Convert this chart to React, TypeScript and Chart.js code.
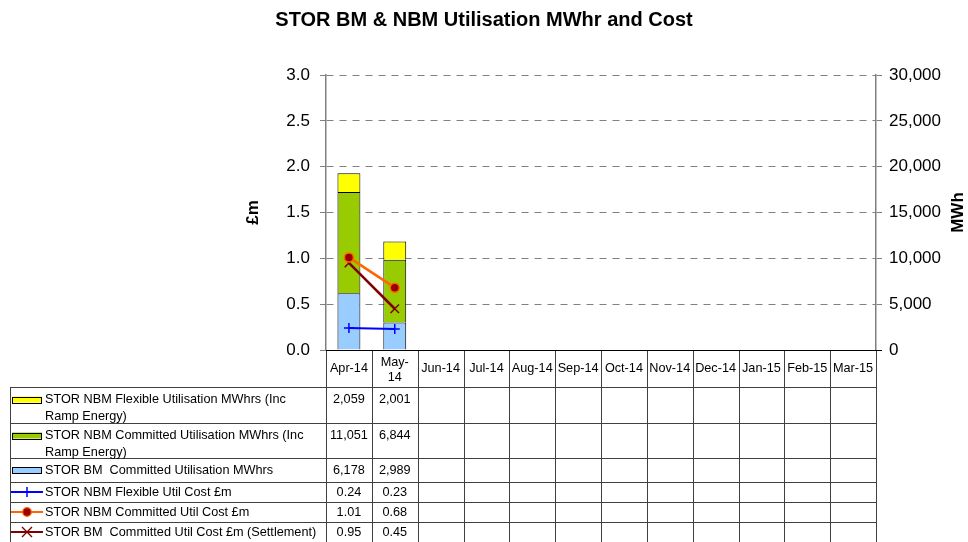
import React, { useEffect, useRef } from "react";
import { Chart, registerables } from "chart.js";

Chart.register(...registerables);

const FONT = "'Liberation Sans', Arial, Helvetica, sans-serif";

// ---- data ----
const categories: (string | string[])[] = [
  "Apr-14", ["May-", "14"], "Jun-14", "Jul-14", "Aug-14", "Sep-14",
  "Oct-14", "Nov-14", "Dec-14", "Jan-15", "Feb-15", "Mar-15",
];

const nbmFlexibleMWh = [2059, 2001, null, null, null, null, null, null, null, null, null, null];
const nbmCommittedMWh = [11051, 6844, null, null, null, null, null, null, null, null, null, null];
const bmCommittedMWh = [6178, 2989, null, null, null, null, null, null, null, null, null, null];
const nbmFlexibleCost = [0.24, 0.23, null, null, null, null, null, null, null, null, null, null];
const nbmCommittedCost = [1.01, 0.68, null, null, null, null, null, null, null, null, null, null];
const bmCommittedCost = [0.95, 0.45, null, null, null, null, null, null, null, null, null, null];

const costTicks = [0, 0.5, 1.0, 1.5, 2.0, 2.5, 3.0];
const mwhTicks = [0, 5000, 10000, 15000, 20000, 25000, 30000];

const nameNbmFlexibleMWh = ["STOR NBM Flexible Utilisation MWhrs (Inc", "Ramp Energy)"];
const nameNbmCommittedMWh = ["STOR NBM Committed Utilisation MWhrs (Inc", "Ramp Energy)"];
const nameBmCommittedMWh = ["STOR BM  Committed Utilisation MWhrs"];
const nameNbmFlexibleCost = ["STOR NBM Flexible Util Cost £m"];
const nameNbmCommittedCost = ["STOR NBM Committed Util Cost £m"];
const nameBmCommittedCost = ["STOR BM  Committed Util Cost £m (Settlement)"];

const chartTitle = "STOR BM & NBM Utilisation MWhr and Cost";
const leftAxisTitle = "£m";
const rightAxisTitle = "MWh";

// ---- styles ----
const YELLOW = "#FFFF00";
const GREEN = "#99CC00";
const LIGHTBLUE = "#99CCFF";
const BLUE = "#0000FF";
const ORANGE = "#FF6600";
const DARKRED = "#990000";
const MAROON = "#800000";

const fmtMWh = (v: number) => v.toLocaleString("en-US");
const fmtCost = (v: number) => v.toFixed(2);

type Row = {
  lines: string[];
  data: (number | null)[];
  fmt: (v: number) => string;
  key: "bar" | "plus" | "circle" | "x";
  color: string;
  height: number;
};

const rows: Row[] = [
  { lines: nameNbmFlexibleMWh, data: nbmFlexibleMWh, fmt: fmtMWh, key: "bar", color: YELLOW, height: 36 },
  { lines: nameNbmCommittedMWh, data: nbmCommittedMWh, fmt: fmtMWh, key: "bar", color: GREEN, height: 35 },
  { lines: nameBmCommittedMWh, data: bmCommittedMWh, fmt: fmtMWh, key: "bar", color: LIGHTBLUE, height: 24 },
  { lines: nameNbmFlexibleCost, data: nbmFlexibleCost, fmt: fmtCost, key: "plus", color: BLUE, height: 20 },
  { lines: nameNbmCommittedCost, data: nbmCommittedCost, fmt: fmtCost, key: "circle", color: ORANGE, height: 20 },
  { lines: nameBmCommittedCost, data: bmCommittedCost, fmt: fmtCost, key: "x", color: MAROON, height: 20 },
];

function drawMarker(ctx: CanvasRenderingContext2D, kind: string, x: number, y: number) {
  ctx.save();
  if (kind === "plus") {
    ctx.strokeStyle = BLUE;
    ctx.lineWidth = 1.5;
    ctx.beginPath();
    ctx.moveTo(x, y - 5);
    ctx.lineTo(x, y + 5);
    ctx.moveTo(x - 5, y);
    ctx.lineTo(x + 5, y);
    ctx.stroke();
  } else if (kind === "circle") {
    ctx.fillStyle = DARKRED;
    ctx.strokeStyle = ORANGE;
    ctx.lineWidth = 1.2;
    ctx.beginPath();
    ctx.arc(x, y, 4.3, 0, Math.PI * 2);
    ctx.fill();
    ctx.stroke();
  } else if (kind === "x") {
    ctx.strokeStyle = MAROON;
    ctx.lineWidth = 1.4;
    ctx.beginPath();
    ctx.moveTo(x - 5, y - 5);
    ctx.lineTo(x + 5, y + 5);
    ctx.moveTo(x + 5, y - 5);
    ctx.lineTo(x - 5, y + 5);
    ctx.stroke();
  }
  ctx.restore();
}

const tablePlugin = {
  id: "dataTable",
  afterDraw(chart: any) {
    const ctx: CanvasRenderingContext2D = chart.ctx;
    const area = chart.chartArea;
    const xs = chart.scales.x;
    const n = categories.length;
    const centers = categories.map((_, i) => xs.getPixelForValue(i));
    const bounds: number[] = [area.left];
    for (let i = 0; i < n - 1; i++) bounds.push((centers[i] + centers[i + 1]) / 2);
    bounds.push(area.right);

    const top = area.bottom;
    const headerBottom = top + 37;
    const tableLeft = 10;
    const bottom = chart.height;

    ctx.save();
    const rowTops: number[] = [];
    let y = headerBottom;
    rows.forEach((r) => {
      rowTops.push(y);
      y += r.height;
    });

    ctx.lineWidth = 1;
    ctx.strokeStyle = "#404040";
    ctx.beginPath();
    rowTops.forEach((ry) => {
      const yy = Math.round(ry) + 0.5;
      ctx.moveTo(tableLeft, yy);
      ctx.lineTo(area.right, yy);
    });
    const lx = tableLeft + 0.5;
    ctx.moveTo(lx, headerBottom);
    ctx.lineTo(lx, bottom);
    bounds.forEach((bx) => {
      const xx = Math.round(bx) + 0.5;
      ctx.moveTo(xx, top);
      ctx.lineTo(xx, bottom);
    });
    ctx.stroke();

    // x axis line
    ctx.strokeStyle = "#000";
    ctx.beginPath();
    ctx.moveTo(area.left, Math.round(top) + 0.5);
    ctx.lineTo(area.right + 6, Math.round(top) + 0.5);
    ctx.stroke();

    ctx.fillStyle = "#000";
    ctx.font = `12.7px ${FONT}`;
    ctx.textBaseline = "middle";
    ctx.textAlign = "center";

    categories.forEach((c, i) => {
      const lines = Array.isArray(c) ? c : [c];
      const cx = centers[i];
      if (lines.length === 1) {
        ctx.fillText(lines[0], cx, top + 18.5);
      } else {
        lines.forEach((l, k) => ctx.fillText(l, cx, top + 12 + k * 15));
      }
    });

    rows.forEach((r, ri) => {
      const rt = rowTops[ri];
      const firstY = r.lines.length > 1 ? rt + 12.5 : rt + r.height / 2;
      if (r.key === "bar") {
        ctx.fillStyle = r.color;
        ctx.fillRect(12, firstY - 3, 30, 6);
        ctx.strokeStyle = "#000";
        ctx.lineWidth = 1;
        ctx.strokeRect(12.5, Math.round(firstY - 3) + 0.5, 29, 6);
      } else {
        ctx.strokeStyle = r.color;
        ctx.lineWidth = 2;
        ctx.beginPath();
        ctx.moveTo(11, firstY);
        ctx.lineTo(43, firstY);
        ctx.stroke();
        drawMarker(ctx, r.key, 27, firstY);
      }
      ctx.fillStyle = "#000";
      ctx.textAlign = "left";
      r.lines.forEach((l, k) => ctx.fillText(l, 45, firstY + k * 17));
      ctx.textAlign = "center";
      r.data.forEach((v, i) => {
        if (v === null || v === undefined) return;
        ctx.fillText(r.fmt(v), centers[i], firstY);
      });
    });

    ctx.font = `bold 17px ${FONT}`;
    ctx.textAlign = "center";
    ctx.textBaseline = "middle";
    ctx.save();
    ctx.translate(253, (area.top + area.bottom) / 2);
    ctx.rotate(-Math.PI / 2);
    ctx.fillText(leftAxisTitle, 0, 0);
    ctx.restore();
    ctx.save();
    ctx.translate(958, (area.top + area.bottom) / 2);
    ctx.rotate(-Math.PI / 2);
    ctx.fillText(rightAxisTitle, 0, 0);
    ctx.restore();

    ctx.restore();
  },
};

export default function App() {
  const ref = useRef<HTMLCanvasElement | null>(null);

  useEffect(() => {
    if (!ref.current) return;
    Chart.defaults.font.family = FONT;
    const chart = new Chart(ref.current, {
      type: "bar",
      data: {
        labels: categories as any,
        datasets: [
          {
            type: "line",
            label: nameNbmFlexibleCost.join(" "),
            data: nbmFlexibleCost,
            yAxisID: "y",
            borderColor: BLUE,
            backgroundColor: BLUE,
            borderWidth: 2,
            pointStyle: "cross",
            pointRadius: 5,
            pointBorderWidth: 1.5,
            pointBorderColor: BLUE,
            order: 0,
          },
          {
            type: "line",
            label: nameNbmCommittedCost.join(" "),
            data: nbmCommittedCost,
            yAxisID: "y",
            borderColor: ORANGE,
            backgroundColor: DARKRED,
            borderWidth: 2.5,
            pointStyle: "circle",
            pointRadius: 4.5,
            pointBackgroundColor: DARKRED,
            pointBorderColor: ORANGE,
            pointBorderWidth: 1.5,
            order: 0,
          },
          {
            type: "line",
            label: nameBmCommittedCost.join(" "),
            data: bmCommittedCost,
            yAxisID: "y",
            borderColor: MAROON,
            backgroundColor: MAROON,
            borderWidth: 2.5,
            pointStyle: "crossRot",
            pointRadius: 6,
            pointBorderColor: MAROON,
            pointBorderWidth: 1.5,
            order: 0,
          },
          {
            type: "bar",
            label: nameBmCommittedMWh.join(" "),
            data: bmCommittedMWh,
            yAxisID: "y1",
            backgroundColor: LIGHTBLUE,
            borderColor: "#000",
            borderWidth: 1,
            barPercentage: 0.5,
            categoryPercentage: 1,
            order: 1,
          },
          {
            type: "bar",
            label: nameNbmCommittedMWh.join(" "),
            data: nbmCommittedMWh,
            yAxisID: "y1",
            backgroundColor: GREEN,
            borderColor: "#000",
            borderWidth: 1,
            barPercentage: 0.5,
            categoryPercentage: 1,
            order: 1,
          },
          {
            type: "bar",
            label: nameNbmFlexibleMWh.join(" "),
            data: nbmFlexibleMWh,
            yAxisID: "y1",
            backgroundColor: YELLOW,
            borderColor: "#000",
            borderWidth: 1,
            barPercentage: 0.5,
            categoryPercentage: 1,
            order: 1,
          },
        ] as any,
      },
      options: {
        responsive: false,
        animation: false,
        layout: { padding: { left: 0, right: 0, top: 0, bottom: 192 } },
        plugins: {
          legend: { display: false },
          tooltip: { enabled: false },
          title: {
            display: true,
            text: chartTitle,
            color: "#000",
            font: { size: 20, weight: "bold", family: FONT },
            padding: { top: 8, bottom: 43 },
          },
        },
        scales: {
          x: { display: false, stacked: true, offset: true },
          y: {
            position: "left",
            min: 0,
            max: 3,
            afterBuildTicks: (s: any) => {
              s.ticks = costTicks.map((v) => ({ value: v }));
            },
            ticks: {
              color: "#000",
              font: { size: 17, family: FONT },
              padding: 10,
              callback: (v: any) => Number(v).toFixed(1),
            },
            grid: { color: "#808080", tickColor: "#808080", tickLength: 6, lineWidth: 1 },
            border: { color: "#808080", width: 1.5, dash: [7, 6] },
            afterFit: (s: any) => {
              s.width = 326;
            },
          },
          y1: {
            position: "right",
            min: 0,
            max: 30000,
            stacked: true,
            afterBuildTicks: (s: any) => {
              s.ticks = mwhTicks.map((v) => ({ value: v }));
            },
            ticks: {
              color: "#000",
              font: { size: 17, family: FONT },
              padding: 7,
              callback: (v: any) => Number(v).toLocaleString("en-US"),
            },
            grid: { drawOnChartArea: false, color: "#808080", tickColor: "#808080", tickLength: 6 },
            border: { color: "#808080", width: 1.5 },
            afterFit: (s: any) => {
              s.width = 92;
            },
          },
        },
      } as any,
      plugins: [tablePlugin],
    });
    return () => chart.destroy();
  }, []);

  return (
    <div style={{ position: "absolute", left: 0, top: 0, width: 968, height: 542, background: "#fff" }}>
      <canvas ref={ref} width={968} height={542} style={{ display: "block" }} />
    </div>
  );
}
